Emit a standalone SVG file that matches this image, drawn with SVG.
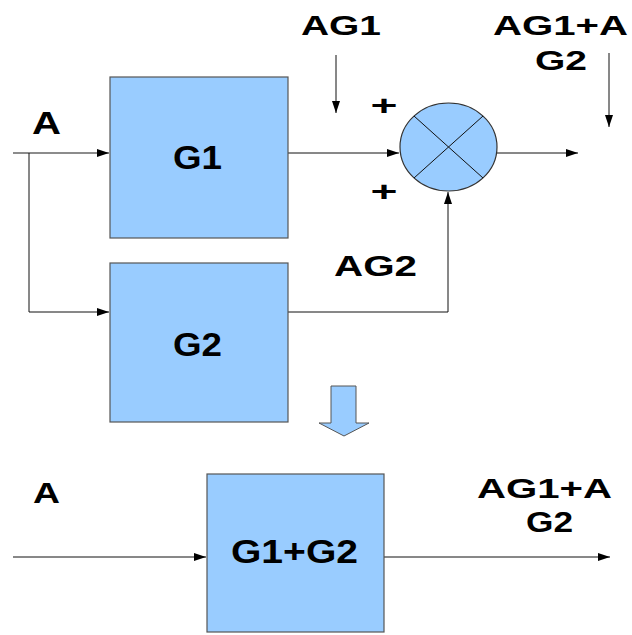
<svg xmlns="http://www.w3.org/2000/svg" width="632" height="635" viewBox="0 0 632 635">
<style>
.box{fill:#99ccff;stroke:#555;stroke-width:1.2}
.ln{fill:none;stroke:#111;stroke-width:1}
.t{font-family:"Liberation Sans",Arial,sans-serif;font-weight:bold;fill:#000;text-anchor:start}
</style>
<defs>
<marker id="ah" viewBox="0 0 12 8" refX="12" refY="4" markerWidth="12" markerHeight="8" markerUnits="userSpaceOnUse" orient="auto">
<path d="M0,0 L12,4 L0,8 z" fill="#000"/>
</marker>
</defs>
<rect width="632" height="635" fill="#fff"/>
<g id="connectors">
<path d="M13,153 H109" fill="none" stroke="#666" stroke-width="1.5" marker-end="url(#ah)"/>
<path class="ln" d="M29,153 V312 H109" marker-end="url(#ah)"/>
<path class="ln" d="M288,153 H399" marker-end="url(#ah)"/>
<path class="ln" d="M288,312 H448 V192" marker-end="url(#ah)"/>
<path class="ln" d="M497,153 H578" marker-end="url(#ah)"/>
<path class="ln" d="M336,55 V113" marker-end="url(#ah)"/>
<path class="ln" d="M609,53 V127" marker-end="url(#ah)"/>
<path class="ln" d="M13,557 H206" marker-end="url(#ah)"/>
<path class="ln" d="M384,557 H610" marker-end="url(#ah)"/>
</g>
<g id="G1">
<rect class="box" x="110" y="77" width="178" height="161"/>
<text class="t" x="173" y="169" font-size="33" textLength="49" lengthAdjust="spacingAndGlyphs">G1</text>
</g>
<g id="G2">
<rect class="box" x="110" y="263" width="178" height="159"/>
<text class="t" x="173" y="356" font-size="33" textLength="49" lengthAdjust="spacingAndGlyphs">G2</text>
</g>
<g id="sum">
<ellipse cx="448.5" cy="147" rx="48.5" ry="44" fill="#99ccff" stroke="#333" stroke-width="1.2"/>
<path class="ln" d="M414,116 L483,178 M483,116 L414,178"/>
</g>
<g id="G1plusG2">
<rect class="box" x="207" y="474" width="177" height="158"/>
<text class="t" x="231" y="563" font-size="33" textLength="127" lengthAdjust="spacingAndGlyphs">G1+G2</text>
</g>
<g id="blockArrow">
<path d="M331,386 H356 V423 H369 L344,436 L319,423 H331 Z" fill="#99ccff" stroke="#555" stroke-width="1"/>
</g>
<g id="labels">
<text class="t" x="32" y="134" font-size="32" textLength="29" lengthAdjust="spacingAndGlyphs">A</text>
<text class="t" x="301" y="35" font-size="28" textLength="80" lengthAdjust="spacingAndGlyphs">AG1</text>
<text class="t" x="493" y="35" font-size="28" textLength="135" lengthAdjust="spacingAndGlyphs">AG1+A</text>
<text class="t" x="535" y="70" font-size="28" textLength="52" lengthAdjust="spacingAndGlyphs">G2</text>
<text class="t" x="334" y="276" font-size="29" textLength="83" lengthAdjust="spacingAndGlyphs">AG2</text>
<text class="t" x="370.5" y="114.5" font-size="27" textLength="27" lengthAdjust="spacingAndGlyphs">+</text>
<text class="t" x="370.5" y="200.5" font-size="27" textLength="27" lengthAdjust="spacingAndGlyphs">+</text>
<text class="t" x="33" y="503" font-size="30" textLength="27" lengthAdjust="spacingAndGlyphs">A</text>
<text class="t" x="477" y="498" font-size="28" textLength="135" lengthAdjust="spacingAndGlyphs">AG1+A</text>
<text class="t" x="526" y="532" font-size="29" textLength="47" lengthAdjust="spacingAndGlyphs">G2</text>
</g>
</svg>
